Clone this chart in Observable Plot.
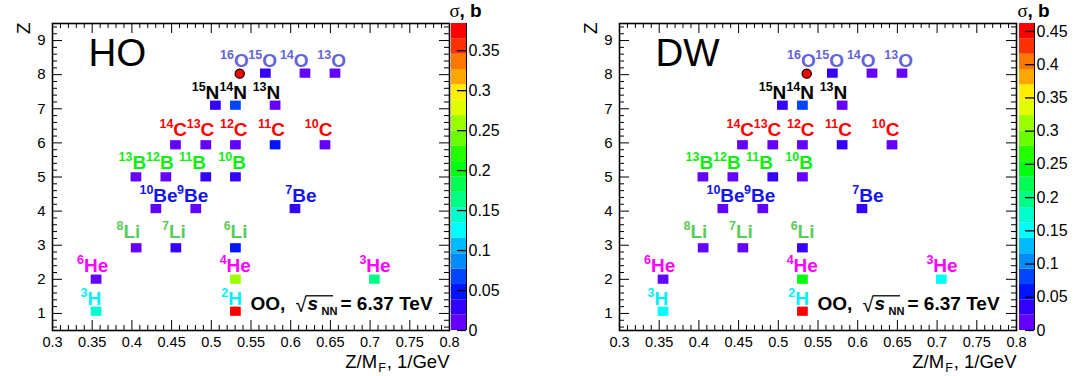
<!DOCTYPE html>
<html><head><meta charset="utf-8">
<script src="https://cdn.jsdelivr.net/npm/d3@7"></script>
<script src="https://cdn.jsdelivr.net/npm/@observablehq/plot@0.6"></script>
<style>
body{margin:0;background:#fff;}
#chart{position:relative;width:1078px;height:376px;overflow:hidden;background:#fff;}
#chart svg{position:absolute;top:0;overflow:visible;}
</style></head><body><div id="chart"></div>
<script>
// ---------------- data ----------------
const nuclide    = ["16O","15O","14O","13O","15N","14N","13N","14C","13C","12C","11C","10C","13B","12B","11B","10B","10Be","9Be","7Be","8Li","7Li","6Li","6He","4He","3He","3H","2H"];
const massNumber = ["16","15","14","13","15","14","13","14","13","12","11","10","13","12","11","10","10","9","7","8","7","6","6","4","3","3","2"];
const symbol     = ["O","O","O","O","N","N","N","C","C","C","C","C","B","B","B","B","Be","Be","Be","Li","Li","Li","He","He","He","H","H"];
// bin centres: Z/M_F (1/GeV) and Z
const zOverM = [0.5358,0.5687,0.6186,0.6564,0.5058,0.531,0.581,0.4555,0.4937,0.531,0.581,0.6438,0.4057,0.4434,0.4937,0.531,0.4308,0.4811,0.606,0.406,0.456,0.531,0.3555,0.531,0.706,0.3555,0.531];
const zBin   = [8.03,8.03,8.03,8.03,7.09,7.09,7.09,5.93,5.93,5.93,5.93,5.93,4.99,4.99,4.99,4.99,4.06,4.06,4.06,2.91,2.91,2.91,1.99,1.99,1.99,1.05,1.05];
// cross sections sigma (b); 16O is the projectile (drawn as marker)
const sigmaHO = [null,0.029,0.010,0.008,0.027,0.066,0.009,0.010,0.012,0.014,0.046,0.008,0.008,0.010,0.025,0.022,0.012,0.014,0.030,0.012,0.024,0.050,0.015,0.260,0.163,0.145,0.384];
const sigmaDW = [null,0.035,0.010,0.010,0.032,0.080,0.010,0.010,0.010,0.012,0.040,0.010,0.010,0.010,0.030,0.015,0.010,0.012,0.035,0.012,0.015,0.045,0.015,0.240,0.150,0.150,0.462];
// label anchor (boundary between mass number and symbol, baseline)
const labelX = [0.5286,0.5642,0.6039,0.651,0.4928,0.5277,0.5696,0.4522,0.4865,0.5284,0.5755,0.6353,0.4006,0.4353,0.4761,0.5264,0.427,0.4655,0.6019,0.3893,0.4467,0.5243,0.3397,0.5193,0.6953,0.344,0.5214];
const labelY = [8.22,8.22,8.22,8.22,7.29,7.29,7.29,6.19,6.19,6.19,6.19,6.19,5.22,5.22,5.22,5.22,4.27,4.27,4.27,3.21,3.21,3.21,2.22,2.22,2.22,1.26,1.26];
const zmaxHO = 0.384, zmaxDW = 0.462;
const xTicks = [0.3,0.35,0.4,0.45,0.5,0.55,0.6,0.65,0.7,0.75,0.8];
const yTicks = [1,2,3,4,5,6,7,8,9];
const cbTicksHO = [0,0.05,0.1,0.15,0.2,0.25,0.3,0.35];
const cbTicksDW = [0,0.05,0.1,0.15,0.2,0.25,0.3,0.35,0.4,0.45];
const symbolColor = {O:"#6464d8", N:"#000000", C:"#ff0000", B:"#10ee10", Be:"#1414f0", Li:"#5ccb5c", He:"#ff00ff", H:"#00f0ff"};

// ---------------- helpers ----------------
const SANS = "Liberation Sans, Arial, Helvetica, sans-serif";
const NBANDS = 20;
function bandColor(k){ // ROOT "pretty palette" (50 colours, violet -> red)
  const idx = Math.floor((k+0.99)*50/NBANDS);
  const hue = idx >= 49 ? 0 : 280 - (idx+1)*5.6;
  return d3.hsl(hue,1,0.5).formatHex();
}
function colorScale(zmax){
  return {type:"threshold", domain:d3.range(1,NBANDS).map(k=>k*zmax/NBANDS), range:d3.range(NBANDS).map(bandColor)};
}
const ctx = document.createElement("canvas").getContext("2d");
function tw(t,size,weight="normal",style="normal"){ctx.font=`${style} ${weight} ${size}px "Liberation Sans"`;return ctx.measureText(t).width;}

const W=452, H=376, ML=52, MR=3, MT=23, MB=46;
const PW=W-ML-MR, PH=H-MT-MB;
const xMinor = d3.range(30,81).filter(i=>i%5).map(i=>i/100);
const yMinor = d3.range(3,48).filter(i=>i%5).map(i=>i/5);
const BW=0.0135, BH=0.27;

function mainPlot(sigma, zmax, tag){
  const rows = nuclide.map((n,i)=>({n, A:massNumber[i], sym:symbol[i], x:zOverM[i], y:zBin[i], s:sigma[i], lx:labelX[i], ly:labelY[i]}));
  const cells = rows.filter(d=>d.s!=null);
  const proj = rows.filter(d=>d.s==null);
  const labelMarks = [];
  for (const el of Object.keys(symbolColor)){
    const sub = rows.filter(d=>d.sym===el);
    labelMarks.push(Plot.text(sub,{x:"lx",y:"ly",text:"A",textAnchor:"end",lineAnchor:"bottom",dy:-8,fontSize:12.5,fontWeight:"bold",fill:symbolColor[el],fontFamily:SANS}));
    labelMarks.push(Plot.text(sub,{x:"lx",y:"ly",text:"sym",textAnchor:"start",lineAnchor:"bottom",fontSize:19,fontWeight:"bold",fill:symbolColor[el],fontFamily:SANS}));
  }
  // x title pieces (right aligned)
  const TF=18.5, TB=37;
  const w3=tw(", 1/GeV",TF), w2=tw("F",12.5), w1=tw("Z/M",TF);
  const ann = [
    {t:"OO,", dx:198, fs:19, fw:"bold", st:"normal", dy:0},
    {t:"\u221A", dx:243, fs:20, fw:"normal", st:"normal", dy:2},
    {t:"s", dx:255, fs:19, fw:"bold", st:"italic", dy:0},
    {t:"NN", dx:269, fs:11, fw:"bold", st:"normal", dy:5},
    {t:"= 6.37 TeV", dx:288, fs:19, fw:"bold", st:"normal", dy:0}
  ];
  const svg = Plot.plot({
    width:W, height:H, marginLeft:ML, marginRight:MR, marginTop:MT, marginBottom:MB,
    style:{background:"transparent", fontFamily:SANS, fontSize:"15px", color:"black"},
    x:{domain:[0.3,0.8]},
    y:{domain:[0.5,9.5]},
    color:colorScale(zmax),
    marks:[
      Plot.rect(cells,{x1:d=>d.x-BW/2, x2:d=>d.x+BW/2, y1:d=>d.y-BH/2, y2:d=>d.y+BH/2, fill:"s"}),
      Plot.dot(proj,{x:"x",y:"y",r:4.6,fill:"#ff0000",stroke:"black",strokeWidth:1.2}),
      ...labelMarks,
      Plot.tickX(xTicks,{x:d=>d, insetTop:PH-10, stroke:"black"}),
      Plot.tickX(xTicks,{x:d=>d, insetBottom:PH-10, stroke:"black"}),
      Plot.tickX(xMinor,{x:d=>d, insetTop:PH-5, stroke:"black"}),
      Plot.tickX(xMinor,{x:d=>d, insetBottom:PH-5, stroke:"black"}),
      Plot.tickY(yTicks,{y:d=>d, insetRight:PW-10, stroke:"black"}),
      Plot.tickY(yTicks,{y:d=>d, insetLeft:PW-10, stroke:"black"}),
      Plot.tickY(yMinor,{y:d=>d, insetRight:PW-5, stroke:"black"}),
      Plot.tickY(yMinor,{y:d=>d, insetLeft:PW-5, stroke:"black"}),
      Plot.frame({stroke:"black", strokeWidth:1.6}),
      Plot.axisX({ticks:xTicks, tickSize:0, tickPadding:6, tickFormat:d=>String(d), label:null, fontSize:14.5}),
      Plot.axisY({ticks:yTicks, tickSize:0, tickPadding:7, tickFormat:d=>String(d), label:null, fontSize:15}),
      Plot.text([tag],{frameAnchor:"top-left", dx:36, dy:42, lineAnchor:"bottom", textAnchor:"start", fontSize:38.5, fontFamily:SANS}),
      Plot.text(["Z"],{frameAnchor:"top-left", rotate:-90, dx:-36.5, dy:-1, textAnchor:"end", fontSize:19, fontFamily:SANS}),
      Plot.text(["Z/M"],{frameAnchor:"bottom-right", dx:-(w1+w2+w3)-2, dy:TB, lineAnchor:"bottom", textAnchor:"start", fontSize:TF, fontFamily:SANS}),
      Plot.text(["F"],{frameAnchor:"bottom-right", dx:-(w2+w3)-1, dy:TB+4, lineAnchor:"bottom", textAnchor:"start", fontSize:12.5, fontFamily:SANS}),
      Plot.text([", 1/GeV"],{frameAnchor:"bottom-right", dx:0, dy:TB, lineAnchor:"bottom", textAnchor:"end", fontSize:TF, fontFamily:SANS}),
      ...ann.map(a=>Plot.text([a.t],{frameAnchor:"bottom-left", dx:a.dx, dy:-20.7+a.dy, lineAnchor:"bottom", textAnchor:"start", fontSize:a.fs, fontWeight:a.fw, fontStyle:a.st, fontFamily:SANS}))
    ]
  });
  // overline of the square root
  d3.select(svg).append("line").attr("x1",ML+253.5).attr("x2",ML+281).attr("y1",295.8).attr("y2",295.8).attr("stroke","black").attr("stroke-width",1.3);
  return svg;
}

function colorBar(zmax, ticks){
  const bands = d3.range(NBANDS).map(k=>({y1:k*zmax/NBANDS, y2:(k+1)*zmax/NBANDS, mid:(k+0.5)*zmax/NBANDS}));
  const BWpx = 15;
  return Plot.plot({
    width:75, height:H, marginLeft:2, marginRight:75-2-BWpx, marginTop:MT, marginBottom:MB,
    style:{background:"transparent", fontFamily:SANS, fontSize:"15px", color:"black"},
    x:{domain:[0,1], axis:null},
    y:{domain:[0,zmax]},
    color:colorScale(zmax),
    marks:[
      Plot.rect(bands,{x1:0, x2:1, y1:"y1", y2:"y2", fill:"mid"}),
      Plot.ruleX([1],{stroke:"black", strokeWidth:1}),
      Plot.tickY(ticks,{y:d=>d, insetLeft:BWpx-9, stroke:"black", strokeWidth:1.3}),
      Plot.axisY({anchor:"right", ticks, tickSize:0, tickPadding:2, tickFormat:d=>String(d), label:null, fontSize:16}),
      Plot.text(["\u03C3"],{frameAnchor:"top-left", dx:-2, dy:-6.3, lineAnchor:"bottom", textAnchor:"start", fontSize:19, fontFamily:"Liberation Serif, DejaVu Serif, serif"}),
      Plot.text([", b"],{frameAnchor:"top-left", dx:8, dy:-6.3, lineAnchor:"bottom", textAnchor:"start", fontSize:19, fontWeight:"bold", fontFamily:SANS})
    ]
  });
}

const chart = document.getElementById("chart");
const OFF = 567;
const parts = [
  [mainPlot(sigmaHO, zmaxHO, "HO"), 0],
  [colorBar(zmaxHO, cbTicksHO), 449],
  [mainPlot(sigmaDW, zmaxDW, "DW"), OFF],
  [colorBar(zmaxDW, cbTicksDW), 449+OFF+1]
];
for (const [el,left] of parts){ el.style.left = left+"px"; chart.appendChild(el); }
</script></body></html>
